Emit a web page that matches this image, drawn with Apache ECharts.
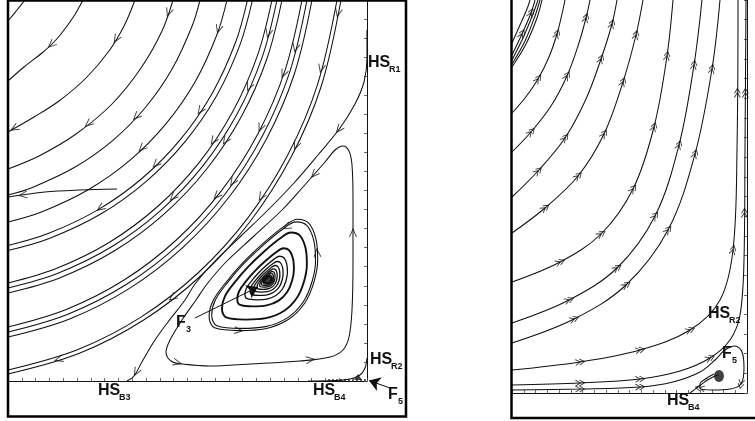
<!DOCTYPE html>
<html>
<head>
<meta charset="utf-8">
<script src="https://cdn.jsdelivr.net/npm/echarts@6/dist/echarts.min.js"></script>
<style>
  html, body { margin: 0; padding: 0; background: #fff; }
  #c { width: 755px; height: 421px; }
</style>
</head>
<body>
<div id="c"></div>
<script>
// ---------- Left portrait: trajectories in plot units, listed in the direction of flow ----------
const arcA1 = [[17,381],[9,371],[0,360]];
const arcA2 = [[75,381],[66,365],[53,347],[44,337],[34,328],[16,314],[0,300]];
const arcA3 = [[127,381],[116,355],[101,330],[78,303],[51,280],[26,264],[0,249]];
const arcA4 = [[165,381],[154,350],[133,313],[104,277],[68,247],[31,225],[0,212]];
const shortTail = [[109,192],[72,191],[37,189],[0,184]];
const arcA5 = [[192,381],[184.3,355.5],[164.5,312.7],[137.8,274],[104.9,240.7],[66.7,213.7],[24.4,193.6],[0,186]];
const arcA6 = [[219,381],[209,346.5],[187.3,299.6],[157.9,257.2],[121.8,220.6],[79.8,191],[33.4,169],[0,159]];
const bundleP1 = [[239.5,381],[227.6,338.7],[204.4,288.1],[173.1,242.4],[134.5,203],[89.8,171.1],[40.1,147.4],[0,135.5]];
const bundleP2 = [[244.5,381],[232.2,336.9],[208.8,285.5],[176.9,239.2],[137.7,199.2],[92.3,166.7],[41.9,142.8],[0,130.5]];
const bundleQ1 = [[264,381],[249.6,325.9],[224.8,269.5],[191.1,218.4],[149.6,174.5],[101.5,138.8],[48.2,112.5],[0,98]];
const bundleQ2 = [[269,381],[254.3,324.2],[229.1,267],[194.9,215.2],[152.8,170.7],[104,134.5],[49.9,107.8],[0,93]];
const bundleQ3 = [[274,381],[259,322.5],[233.4,264.5],[198.7,212],[156,166.9],[106.5,130.2],[51.6,103.1],[0,88]];
const bundleR1 = [[294,381],[277.1,310.9],[250.1,247.6],[213.5,190.4],[168.3,141],[116.1,101],[58.2,71.5],[0,54]];
const bundleR2 = [[299,381],[281.8,309.2],[254.4,245.1],[217.3,187.2],[171.5,137.2],[118.6,96.7],[59.9,66.8],[0,49]];
const bundleR3 = [[304,381],[286.5,307.5],[258.7,242.6],[221.1,184],[174.7,133.4],[121.1,92.4],[61.6,62.1],[0,44]];
const bundleT1 = [[329,381],[309.5,296.4],[280,226.4],[239.9,163.1],[190.5,108.5],[133.3,64.1],[70,31.5],[0,11]];
const bundleT2 = [[333,381],[313.3,295],[283.4,224.4],[242.9,160.5],[193.1,105.5],[135.3,60.7],[71.4,27.7],[0,7]];
const separatrixR1B3 = [[359,351],[359,323],[356,299],[347,277],[332,253],[310,226],[286,198],[260,171],[233,145],[206,119],[187,97],[177,81],[160,59],[147,41],[135,21],[126,5],[119,0]];
const outerLoop = [[174,17],[202,15],[242,17],[292,20],[322,24],[335,31],[341,44],[344,71],[345,121],[345,181],[344,216],[341,230],[335,235],[327,231],[317,219],[295,194],[274,171],[246,145],[218,119],[199,97],[188,81],[174,61],[162,41],[158,29],[163,20],[174,17]];
const cornerR2B4 = [[359,23],[357,13],[352,6],[342,2],[327,0.5],[300,0]];

// focus F3: outline of one turn around the focus and the size of each turn
const focusF3 = [260,101];
const ringShape = [[-31,-55],[-3,-53],[22,-43],[40,-25],[50,-2],[54,22],[52,45],[44,62],[32,66],[17,58],[-5,40],[-28,18],[-46,-3],[-60,-23],[-64,-40],[-58,-52]];
const ringSizes = [0.92,0.88,0.72,0.48,0.36,0.28,0.22,0.17,0.13,0.1,0.07,0.05];

const leftArrows = [[44,336],[107,343],[7,252],[160,369],[80,258],[125,268],[129,238],[15,188],[189,273],[200,244],[149,216],[165,184],[92,174],[332,251],[125,11],[165,83],[53,15],[345,148],[169,18],[302,22],[207,353],[260,348],[289,333],[332,368],[312,313],[272,309],[242,294],[247,256],[217,241],[292,234],[305,208],[225,199],[254,184],[205,189],[310,128],[280,152],[230,47]];

// ---------- Right portrait ----------
const cornerC1 = [[0,350],[8,368],[15,384],[18,393]];
const cornerC2 = [[0,338],[10,359],[19,380],[23,393]];
const cornerC3 = [[0,333],[11,355],[21,379],[26,393]];
const cornerC4 = [[0,329],[13,352],[23,377],[28,393]];
const cornerC5 = [[0,326],[14,349],[25,375],[30,393]];
const riseR1 = [[0,280],[13,295],[26,314],[37,336],[45,359],[50,379],[53,393]];
const riseR2 = [[0,241],[19,261],[39,287],[55,317],[66,347],[74,375],[78,393]];
const riseR3 = [[0,196],[26,222],[53,255],[74,294],[89,334],[100,369],[105,393]];
const riseR4 = [[0,160],[33,185],[66,217],[92,259],[111,311],[124,358],[131,393]];
const riseR5 = [[0,111],[48,131],[89,159],[121,204],[142,266],[155,337],[161,393]];
const riseR6 = [[0,70],[57,93],[105,125],[143,177],[167,248],[182,328],[190,393]];
const riseR7 = [[0,50],[62,74],[114,108],[156,163],[183,239],[200,324],[208,393]];
const riseR8 = [[0,23],[68,31],[128,43],[178,63],[208,93],[221,143],[225,243],[226,393]];
const riseR9 = [[0,8],[68,10],[128,14],[168,22],[198,35],[218,53],[228,78],[232,133],[233,243],[234,393]];
const intoF5 = [[0,3],[68,4],[128,6],[161,11],[188,21],[203,33],[213,43],[223,47],[230,41],[232,25],[229,9],[218,4],[200,3],[188,5],[188,9],[195,15],[202,19]];
const fromB4 = [[178,0],[186,6],[194,12],[201,16],[206,18]];
const focusF5 = [207,17];

const rightArrows = [[10,359],[19,380],[26,314],[45,359],[19,261],[55,317],[74,375],[26,222],[53,255],[89,334],[100,369],[33,185],[66,217],[92,259],[111,311],[124,358],[48,131],[89,159],[121,204],[142,266],[155,337],[57,93],[105,125],[143,177],[167,248],[182,328],[62,74],[114,108],[156,163],[183,239],[200,324],[68,31],[128,43],[178,63],[221,143],[225,300],[68,10],[128,14],[198,35],[232,180],[233,300],[68,4],[128,6],[229,9],[188,5]];

// ---------- build ----------
const ink = '#111';
const leftCurves = [arcA1,arcA2,arcA3,arcA4,shortTail,arcA5,arcA6,bundleP1,bundleP2,
  bundleQ1,bundleQ2,bundleQ3,bundleR1,bundleR2,bundleR3,bundleT1,bundleT2,separatrixR1B3,outerLoop,cornerR2B4];
const rings = ringSizes.map(s => {
  const pts = ringShape.map(p => [focusF3[0] + p[0]*s, focusF3[1] + p[1]*s]);
  pts.push(pts[0]);
  return pts;
});
const rightCurves = [cornerC1,cornerC2,cornerC3,cornerC4,cornerC5,riseR1,riseR2,riseR3,riseR4,riseR5,
  riseR6,riseR7,riseR8,riseR9,intoF5,fromB4];

function curve(data, gi, width) {
  return { type: 'line', xAxisIndex: gi, yAxisIndex: gi, data: data, smooth: 0.35,
    symbol: 'none', silent: true, animation: false, clip: true,
    lineStyle: { color: ink, width: width || 1 }, z: 3 };
}

// place an arrow on the nearest trajectory segment, pointing along the flow
function arrowsOn(points, curves) {
  return points.map(pt => {
    let best = null;
    curves.forEach(c => {
      for (let i = 0; i < c.length - 1; i++) {
        const a = c[i], b = c[i+1];
        const dx = b[0]-a[0], dy = b[1]-a[1];
        const L2 = dx*dx + dy*dy || 1;
        let t = ((pt[0]-a[0])*dx + (pt[1]-a[1])*dy) / L2;
        t = Math.max(0, Math.min(1, t));
        const px = a[0] + t*dx, py = a[1] + t*dy;
        const d = (px-pt[0])**2 + (py-pt[1])**2;
        if (!best || d < best.d) best = { d: d, p: [px, py], ang: Math.atan2(dy, dx) * 180 / Math.PI };
      }
    });
    return { value: best.p, symbolRotate: best.ang };
  });
}

const chevron = 'path://M0,0L10,5L0,10';
const doubleChevron = 'path://M0,0L6,5L0,10M5,0L11,5L5,10';

const series = [];
leftCurves.forEach(c => series.push(curve(c, 0, 1.05)));
rings.forEach((r, i) => series.push(curve(r, 0, i < 2 ? 1.1 : (i < 4 ? 1.9 : 1.3))));
series.push({ type: 'scatter', xAxisIndex: 0, yAxisIndex: 0, data: [focusF3], symbol: 'circle',
  symbolSize: [12, 10], itemStyle: { color: ink }, silent: true, animation: false, z: 5 });
series.push({ type: 'line', xAxisIndex: 0, yAxisIndex: 0, data: [[320,1],[359,1]], symbol: 'none',
  lineStyle: { color: '#666', width: 2, type: 'dotted' }, silent: true, animation: false, z: 2 });
series.push({ type: 'scatter', xAxisIndex: 0, yAxisIndex: 0,
  data: arrowsOn(leftArrows, leftCurves.concat(rings)), symbol: chevron, symbolSize: [8, 7],
  itemStyle: { color: 'rgba(0,0,0,0)', borderColor: ink, borderWidth: 1 }, silent: true, animation: false, z: 6 });
// F3 and F5 pointers
series.push({ type: 'lines', coordinateSystem: 'cartesian2d', xAxisIndex: 0, yAxisIndex: 0, clip: false,
  data: [{ coords: [[187,63],[250,94]] }, { coords: [[382,-7],[361,0.5]] }],
  symbol: ['none', 'arrow'], symbolSize: [0, 11],
  lineStyle: { color: ink, width: 1, opacity: 1, curveness: 0 }, silent: true, animation: false, z: 6 });
series.push({ type: 'scatter', xAxisIndex: 0, yAxisIndex: 0, data: [[350,4]], symbol: 'triangle',
  symbolSize: [8, 6], itemStyle: { color: ink }, silent: true, animation: false, z: 5 });

rightCurves.forEach(c => series.push(curve(c, 1, 1.05)));
series.push({ type: 'scatter', xAxisIndex: 1, yAxisIndex: 1, data: [focusF5], symbol: 'circle',
  symbolSize: [10, 12], itemStyle: { color: ink }, silent: true, animation: false, z: 5 });
series.push({ type: 'scatter', xAxisIndex: 1, yAxisIndex: 1,
  data: arrowsOn(rightArrows, rightCurves), symbol: doubleChevron, symbolSize: [9, 6],
  itemStyle: { color: 'rgba(0,0,0,0)', borderColor: ink, borderWidth: 1 }, silent: true, animation: false, z: 6 });

function axisX(gi, max, step) {
  return { type: 'value', gridIndex: gi, min: 0, max: max, interval: step,
    axisLine: { show: true, onZero: false, lineStyle: { color: '#111', width: 1 } },
    axisTick: { show: true, inside: true, length: 3, lineStyle: { color: '#444', width: 0.8 } },
    axisLabel: { show: false }, splitLine: { show: false } };
}
function axisY(gi, max, step) {
  return { type: 'value', gridIndex: gi, min: 0, max: max, interval: step, position: 'right',
    axisLine: { show: true, onZero: false, lineStyle: { color: '#111', width: 1 } },
    axisTick: { show: true, inside: true, length: 3, lineStyle: { color: '#444', width: 0.8 } },
    axisLabel: { show: false }, splitLine: { show: false } };
}

const bold = 'Liberation Sans, Arial, sans-serif';
function tag(main, sub, x, y, size) {
  const s = size || 16;
  return [
    { type: 'text', left: x, top: y, style: { text: main, font: 'bold ' + s + 'px ' + bold, fill: '#111' }, z: 20 },
    { type: 'text', left: x + (main === 'F' ? 10 : 21), top: y + s*0.62, style: { text: sub, font: 'bold 9px ' + bold, fill: '#111' }, z: 20 }
  ];
}

const option = {
  backgroundColor: '#fff',
  animation: false,
  grid: [
    { left: 8, top: 0, width: 359, height: 381 },
    { left: 512, top: 0, width: 235, height: 393 }
  ],
  xAxis: [axisX(0, 359, 13.8), axisX(1, 235, 11.75)],
  yAxis: [axisY(0, 381, 19.05), axisY(1, 393, 19.65)],
  series: series,
  graphic: [
    { type: 'rect', shape: { x: 8, y: 0.5, width: 398, height: 416 }, style: { fill: 'none', stroke: '#000', lineWidth: 2.5 }, z: 10 },
    { type: 'rect', shape: { x: 511.5, y: -5, width: 300, height: 423 }, style: { fill: 'none', stroke: '#000', lineWidth: 2.5 }, z: 10 }
  ].concat(
    tag('HS', 'R1', 368, 55), tag('HS', 'R2', 370, 352), tag('HS', 'B3', 98, 383),
    tag('HS', 'B4', 313, 383), tag('F', '5', 388, 387), tag('F', '3', 176, 315),
    tag('HS', 'R2', 708, 306), tag('F', '5', 722, 346), tag('HS', 'B4', 667, 393)
  )
};

const chart = echarts.init(document.getElementById('c'));
chart.setOption(option);
</script>
</body>
</html>
